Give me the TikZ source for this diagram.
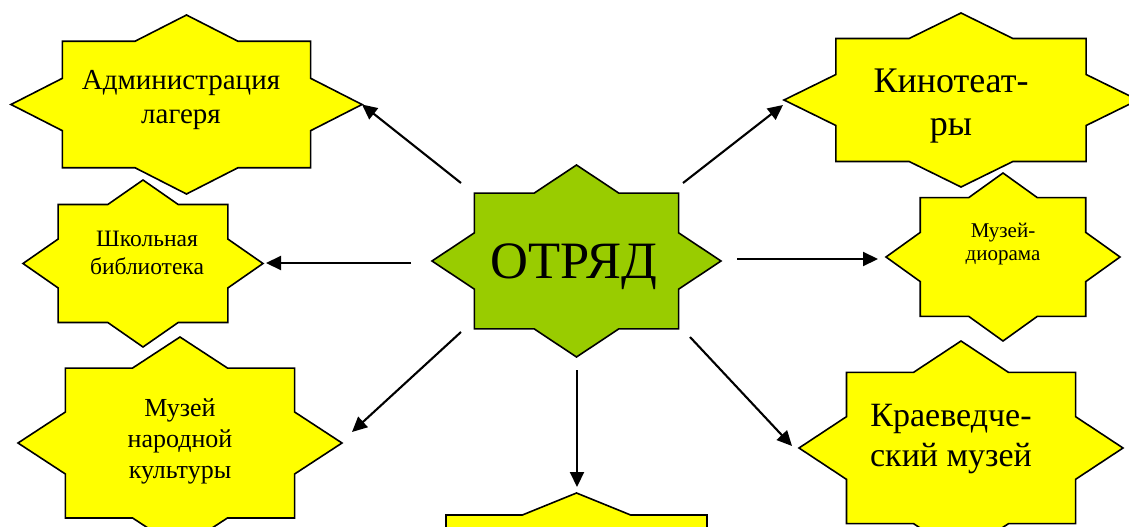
\documentclass[tikz,border=0pt]{standalone}
\usepackage{fontspec}
\setmainfont{Liberation Serif}
\usetikzlibrary{arrows.meta,calc}
\definecolor{staryellow}{HTML}{FFFF00}
\definecolor{stargreen}{HTML}{99CC00}
% #1 name, #2 cx, #3 cy, #4 half width, #5 half height, #6 fill colour
\newcommand{\octostar}[6]{%
  \begin{scope}[shift={(#2,#3)},xscale=#4,yscale=#5]
    \draw[starline,fill=#6]
      (1,0) coordinate (#1-e) -- (.7071,.2929) -- (.7071,.7071) -- (.2929,.7071)
      -- (0,1) coordinate (#1-s) -- (-.2929,.7071) -- (-.7071,.7071) -- (-.7071,.2929)
      -- (-1,0) coordinate (#1-w) -- (-.7071,-.2929) -- (-.7071,-.7071) -- (-.2929,-.7071)
      -- (0,-1) coordinate (#1-n) -- (.2929,-.7071) -- (.7071,-.7071) -- (.7071,-.2929)
      -- cycle;
  \end{scope}}
\begin{document}
\begin{tikzpicture}[x=1pt,y=-1pt,
  starline/.style={draw=black,line width=1.6pt,line join=miter},
  arr/.style={line width=2.1pt,-{Triangle[length=15pt,width=14pt]}},
  lbl/.style={align=center,inner sep=0pt,text=black}]
\useasboundingbox (0,0) rectangle (1129,527);
\clip (0,0) rectangle (1129,527);
% stars
\octostar{sadm}{186.5}{104.5}{175.5}{89.5}{staryellow}
\octostar{sshk}{143}{263.5}{120}{83.5}{staryellow}
\octostar{smnk}{180}{443}{162}{106}{staryellow}
\octostar{sotr}{576.5}{261}{144.5}{96}{stargreen}
\octostar{skin}{961}{100}{177}{87}{staryellow}
\octostar{smdi}{1003}{257}{117}{84}{staryellow}
\octostar{skra}{961}{448}{162}{107}{staryellow}
\octostar{sbot}{576.5}{568}{184.6}{75}{staryellow}
% labels
\node[lbl,font=\fontsize{29}{34}\selectfont] (adm) at (181,100) {Администрация\\лагеря};
\node[lbl,font=\fontsize{23.5}{28}\selectfont] (shk) at (147,253) {Школьная\\библиотека};
\node[lbl,font=\fontsize{26}{31}\selectfont] (mnk) at (180,441) {Музей\\народной\\культуры};
\node[lbl,font=\fontsize{52.5}{60}\selectfont,anchor=base] (otr) at (574,278) {ОТРЯД};
\node[lbl,font=\fontsize{36}{43}\selectfont] (kin) at (951,106.5) {Кинотеат-\\ры};
\node[lbl,font=\fontsize{34}{40}\selectfont] (kra) at (951,439.5) {Краеведче-\\ский музей};
\node[lbl,font=\fontsize{21}{23}\selectfont] (mdi) at (1003,244) {Музей-\\диорама};
% arrow start points
\coordinate (cadm) at (461,183);
\coordinate (cshk) at (411,263);
\coordinate (cmnk) at (461,332);
\coordinate (ckin) at (683,183);
\coordinate (cmdi) at (737,259);
\coordinate (ckra) at (690,337);
\coordinate (cbot) at (577,370);
% arrows
\draw[arr] (cadm) -- (sadm-e);
\draw[arr] (cshk) -- ($(sshk-e)+(3,-0.5)$);
\draw[arr] (cmnk) -- ($(smnk-e)+(10,-11)$);
\draw[arr] (ckin) -- ($(skin-w)+(-1,5)$);
\draw[arr] (cmdi) -- ($(smdi-w)+(-8,2)$);
\draw[arr] (ckra) -- ($(skra-w)+(-7,-2)$);
\draw[arr] (cbot) -- ($(sbot-n)+(0.5,-6)$);
\end{tikzpicture}
\end{document}
